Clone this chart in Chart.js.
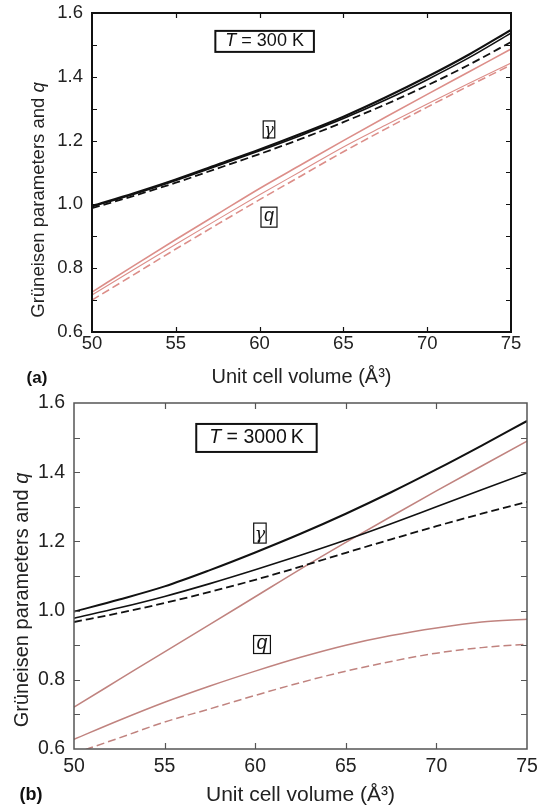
<!DOCTYPE html>
<html><head><meta charset="utf-8">
<script src="https://cdn.jsdelivr.net/npm/chart.js@4.4.1/dist/chart.umd.min.js"></script>
<style>
html,body{margin:0;padding:0;background:#fff;width:538px;height:810px;overflow:hidden;}
#wrapA{position:absolute;left:0;top:0;width:538px;height:390px;}
#wrapB{position:absolute;left:0;top:390px;width:538px;height:420px;}
</style></head><body>
<div id="wrapA"><canvas id="cA" width="538" height="390"></canvas></div>
<div id="wrapB"><canvas id="cB" width="538" height="420"></canvas></div>
<script>
// ---------- data ----------
const volumes = [50, 52.5, 55, 57.5, 60, 62.5, 65, 67.5, 70, 72.5, 75];
const xTicks = [50, 55, 60, 65, 70, 75];
const yTickLabels = ['0.6', '0.8', '1.0', '1.2', '1.4', '1.6'];

// panel (a): T = 300 K
const gammaA1 = [0.995, 1.035, 1.078, 1.125, 1.172, 1.222, 1.275, 1.335, 1.400, 1.470, 1.547];
const gammaA2 = [0.993, 1.032, 1.075, 1.121, 1.168, 1.217, 1.269, 1.327, 1.391, 1.460, 1.537];
const gammaA3 = [0.988, 1.027, 1.068, 1.113, 1.158, 1.206, 1.258, 1.313, 1.373, 1.438, 1.509];
const qA1 = [0.725, 0.808, 0.890, 0.970, 1.050, 1.125, 1.200, 1.273, 1.345, 1.416, 1.487];
const qA2 = [0.716, 0.796, 0.875, 0.953, 1.030, 1.105, 1.180, 1.248, 1.315, 1.380, 1.443];
const qA3 = [0.700, 0.780, 0.860, 0.938, 1.015, 1.090, 1.165, 1.236, 1.305, 1.372, 1.437];

// panel (b): T = 3000 K
const gammaB1 = [0.997, 1.032, 1.070, 1.117, 1.168, 1.222, 1.280, 1.342, 1.408, 1.477, 1.548];
const gammaB2 = [0.978, 1.008, 1.041, 1.078, 1.118, 1.160, 1.204, 1.251, 1.300, 1.349, 1.398];
const gammaB3 = [0.967, 0.993, 1.022, 1.054, 1.089, 1.127, 1.167, 1.206, 1.244, 1.280, 1.314];
const qB1 = [0.721, 0.801, 0.881, 0.960, 1.040, 1.120, 1.197, 1.272, 1.346, 1.418, 1.490];
const qB2 = [0.628, 0.683, 0.735, 0.782, 0.825, 0.865, 0.900, 0.928, 0.950, 0.967, 0.975];
const qB3 = [0.587, 0.632, 0.678, 0.716, 0.755, 0.792, 0.825, 0.853, 0.877, 0.893, 0.903];

const FONT = "'Liberation Sans', Arial, Helvetica, sans-serif";
const SERIF = "'DejaVu Serif', 'Liberation Serif', serif";
Chart.defaults.font.family = FONT;

function pts(arr) { return volumes.map((v, i) => ({ x: v, y: arr[i] })); }
function ds(arr, color, width, dash) {
  return { data: pts(arr), borderColor: color, borderWidth: width, borderDash: dash || [],
    pointRadius: 0, fill: false, cubicInterpolationMode: 'monotone' };
}

function framePlugin(cfg) {
  return {
    id: 'frame' + cfg.id,
    afterDraw(chart) {
      const ctx = chart.ctx, a = chart.chartArea;
      const xs = chart.scales.x, ys = chart.scales.y;
      ctx.save();
      ctx.strokeStyle = cfg.frameColor;
      ctx.lineWidth = cfg.frameWidth;
      ctx.strokeRect(a.left, a.top, a.right - a.left, a.bottom - a.top);
      ctx.lineWidth = cfg.tickWidth;
      ctx.beginPath();
      xs.ticks.forEach(t => {
        if (t.value <= xs.min || t.value >= xs.max) return;
        const px = Math.round(xs.getPixelForValue(t.value)) + 0.5;
        ctx.moveTo(px, a.bottom); ctx.lineTo(px, a.bottom - cfg.tickLen);
        ctx.moveTo(px, a.top); ctx.lineTo(px, a.top + cfg.tickLen);
      });
      ys.ticks.forEach(t => {
        if (t.value <= ys.min + 1e-6 || t.value >= ys.max - 1e-6) return;
        const py = Math.round(ys.getPixelForValue(t.value)) + 0.5;
        ctx.moveTo(a.left, py); ctx.lineTo(a.left + cfg.tickLen, py);
        ctx.moveTo(a.right, py); ctx.lineTo(a.right - cfg.tickLen, py);
      });
      ctx.stroke();

      // annotation boxes
      cfg.notes.forEach(n => {
        let w = 0;
        n.parts.forEach(p => { ctx.font = p.font; w += ctx.measureText(p.t).width; });
        const cx = xs.getPixelForValue(n.x), cy = ys.getPixelForValue(n.y);
        const bw = w + 2 * n.padX, bh = n.h;
        ctx.fillStyle = '#fff';
        ctx.fillRect(cx - bw / 2, cy - bh / 2, bw, bh);
        ctx.lineWidth = n.lw;
        ctx.strokeStyle = '#111';
        ctx.strokeRect(cx - bw / 2, cy - bh / 2, bw, bh);
        ctx.fillStyle = '#111';
        ctx.textBaseline = 'middle';
        ctx.textAlign = 'left';
        let x0 = cx - w / 2;
        n.parts.forEach(p => { ctx.font = p.font; ctx.fillText(p.t, x0, cy + (n.dy || 0)); x0 += ctx.measureText(p.t).width; });
      });

      // y-axis title with italic q
      ctx.translate(cfg.yTitle.x, cfg.yTitle.y);
      ctx.rotate(-Math.PI / 2);
      const f1 = cfg.yTitle.size + 'px ' + FONT, f2 = 'italic ' + cfg.yTitle.size + 'px ' + FONT;
      const s1 = 'Grüneisen parameters and ', s2 = 'q';
      ctx.font = f1; const w1 = ctx.measureText(s1).width;
      ctx.font = f2; const w2 = ctx.measureText(s2).width;
      ctx.fillStyle = '#222';
      ctx.textBaseline = 'middle';
      ctx.textAlign = 'left';
      ctx.font = f1; ctx.fillText(s1, -(w1 + w2) / 2, 0);
      ctx.font = f2; ctx.fillText(s2, -(w1 + w2) / 2 + w1, 0);
      ctx.restore();

      // panel label
      ctx.save();
      ctx.font = 'bold ' + cfg.panel.size + 'px ' + FONT;
      ctx.fillStyle = '#111';
      ctx.textBaseline = 'middle';
      ctx.textAlign = 'center';
      ctx.fillText(cfg.panel.t, cfg.panel.x, cfg.panel.y);
      ctx.restore();
    }
  };
}

function makeChart(id, datasets, cfg) {
  return new Chart(document.getElementById(id), {
    type: 'line',
    data: { datasets },
    options: {
      responsive: false, animation: false,
      devicePixelRatio: 1,
      layout: { padding: { top: cfg.padTop, right: cfg.padRight, left: 0, bottom: 0 } },
      plugins: { legend: { display: false }, tooltip: { enabled: false } },
      scales: {
        x: {
          type: 'linear', min: 50, max: 75,
          afterBuildTicks: s => { s.ticks = xTicks.map(v => ({ value: v })); },
          ticks: { font: { size: cfg.tickSize }, color: '#222', padding: cfg.xTickPad, maxRotation: 0, autoSkip: false },
          grid: { display: false, drawTicks: false },
          border: { display: false },
          title: { display: true, text: 'Unit cell volume (Å³)', color: '#222', font: { size: cfg.xTitleSize }, padding: { top: 0, bottom: cfg.xTitlePad } },
          afterFit: s => { s.height = cfg.xHeight; s.paddingLeft = 0; s.paddingRight = 0; }
        },
        y: {
          type: 'linear', min: 0.6, max: 1.6,
          ticks: {
            stepSize: 0.1, font: { size: cfg.tickSize }, color: '#222', padding: cfg.yTickPad, autoSkip: false,
            callback: v => { const k = Math.round(v * 10); return (k % 2 === 0) ? yTickLabels[(k - 6) / 2] : ''; }
          },
          grid: { display: false, drawTicks: false },
          border: { display: false },
          afterFit: s => { s.width = cfg.yWidth; s.paddingTop = 0; s.paddingBottom = 0; }
        }
      }
    },
    plugins: [framePlugin(cfg)]
  });
}

const redA = '#dc8e89', redB = '#c0837f', blk = '#111';

makeChart('cA', [
  ds(gammaA1, blk, 2.2),
  ds(gammaA2, blk, 1.6),
  ds(gammaA3, blk, 1.8, [8, 4]),
  ds(qA1, redA, 1.6),
  ds(qA2, redA, 1.1),
  ds(qA3, redA, 1.6, [8, 4])
], {
  id: 'A', padTop: 13, padRight: 27, yWidth: 92, xHeight: 58,
  tickSize: 18.5, xTickPad: 1, yTickPad: 9, xTitleSize: 20, xTitlePad: 1,
  frameColor: '#111', frameWidth: 2, tickWidth: 1.2, tickLen: 5,
  yTitle: { x: 39, y: 200, size: 18.5 },
  panel: { t: '(a)', x: 37, y: 378, size: 17 },
  notes: [
    { x: 60.3, y: 1.511, padX: 10, h: 21, lw: 2, parts: [
      { t: 'T', font: 'italic 18px ' + FONT }, { t: ' = 300 K', font: '18px ' + FONT }] },
    { x: 60.56, y: 1.235, padX: 1, h: 17, lw: 1.2, dy: 1, parts: [
      { t: 'γ', font: 'italic 16px ' + SERIF }] },
    { x: 60.56, y: 0.96, padX: 3, h: 20, lw: 1.2, dy: -1, parts: [
      { t: 'q', font: 'italic 18px ' + FONT }] }
  ]
});

makeChart('cB', [
  ds(gammaB1, blk, 2),
  ds(gammaB2, blk, 1.6),
  ds(gammaB3, blk, 1.8, [8, 4]),
  ds(qB1, redB, 1.5),
  ds(qB2, redB, 1.5),
  ds(qB3, redB, 1.5, [8, 4])
], {
  id: 'B', padTop: 13, padRight: 11, yWidth: 74, xHeight: 61,
  tickSize: 19.5, xTickPad: 6, yTickPad: 9, xTitleSize: 21, xTitlePad: 2,
  frameColor: '#555', frameWidth: 1.5, tickWidth: 1.2, tickLen: 6,
  yTitle: { x: 22, y: 210, size: 20 },
  panel: { t: '(b)', x: 31, y: 405, size: 18 },
  notes: [
    { x: 60.07, y: 1.499, padX: 13, h: 28, lw: 2, parts: [
      { t: 'T', font: 'italic 19.5px ' + FONT }, { t: ' = 3000\u2009K', font: '19.5px ' + FONT }] },
    { x: 60.26, y: 1.224, padX: 1, h: 20, lw: 1.2, dy: 1, parts: [
      { t: 'γ', font: 'italic 17.5px ' + SERIF }] },
    { x: 60.375, y: 0.902, padX: 3, h: 18, lw: 1.2, dy: -1, parts: [
      { t: 'q', font: 'italic 19.5px ' + FONT }] }
  ]
});
</script>
</body></html>
